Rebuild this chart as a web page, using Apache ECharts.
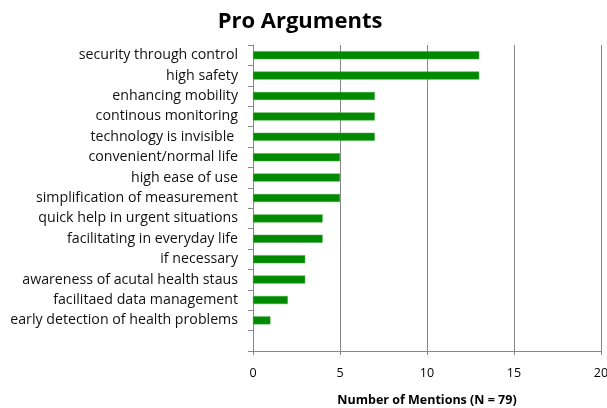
<!DOCTYPE html>
<html><head><meta charset="utf-8">
<script src="https://cdn.jsdelivr.net/npm/echarts@6/dist/echarts.min.js"></script>
<style>html,body{margin:0;padding:0;background:#fff}#c{width:607px;height:408px}</style>
</head><body><div id="c"></div>
<script>
const categories = ["security through control","high safety","enhancing mobility","continous monitoring","technology is invisible ","convenient/normal life","high ease of use","simplification of measurement","quick help in urgent situations","facilitating in everyday life","if necessary","awareness of acutal health staus","facilitaed data management","early detection of health problems",""];
const mentions = [13,13,7,7,7,5,5,5,4,4,3,3,2,1,null];
const xTicks = {min:0,max:20,interval:5};
const chart = echarts.init(document.getElementById('c'));
const font = '"Open Sans", sans-serif';
chart.setOption({
  animation:false,
  title:{text:'Pro Arguments',left:295,top:6,textAlign:'center',textStyle:{fontFamily:font,fontSize:22,fontWeight:'bold',color:'#000'}},
  grid:{left:253,right:6,top:45,bottom:57,containLabel:false,outerBoundsMode:'none'},
  xAxis:{type:'value',min:xTicks.min,max:xTicks.max,interval:xTicks.interval,
    name:'Number of Mentions (N = 79)',nameLocation:'middle',nameGap:43,
    nameTextStyle:{fontFamily:font,fontSize:12.5,fontWeight:'bold',color:'#000'},
    axisLine:{show:true,lineStyle:{color:'#888'}},
    axisTick:{show:true,length:4,lineStyle:{color:'#888'}},
    axisLabel:{fontFamily:font,fontSize:12.5,color:'#000',margin:16},
    splitLine:{show:true,lineStyle:{color:'#888',width:1}}},
  yAxis:{type:'category',data:categories,inverse:true,
    axisLine:{show:true,lineStyle:{color:'#888'}},
    axisTick:{show:true,length:5,lineStyle:{color:'#888'}},
    axisLabel:{fontFamily:font,fontSize:14.2,color:'#111',margin:15}},
  series:[{type:'bar',data:mentions,barWidth:8,itemStyle:{color:'#008a00',borderColor:'#3aa83a',borderWidth:0.5}}]
});
</script></body></html>
